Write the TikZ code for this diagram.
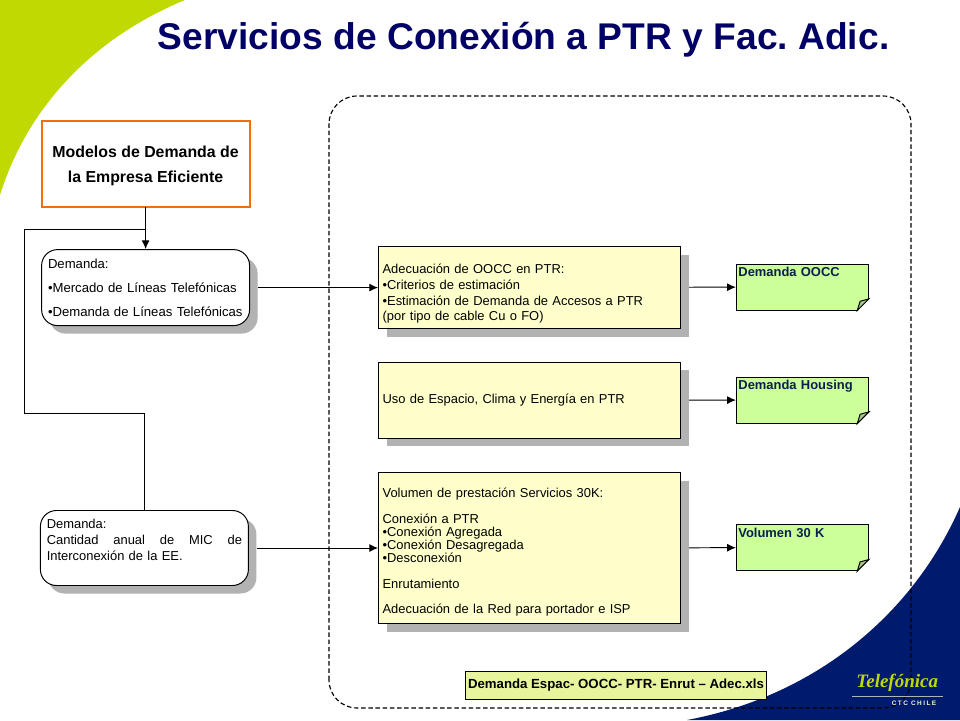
\documentclass[tikz,border=0pt]{standalone}
\usepackage{fontspec}
\setmainfont{Liberation Sans}
\newfontfamily\logofont{Liberation Serif}
\newfontfamily\ctcfont[LetterSpace=22]{Liberation Sans}
\usetikzlibrary{shadows,calc,arrows.meta}
\definecolor{limegreen}{HTML}{C0D900}
\definecolor{darknavy}{HTML}{001A6E}
\definecolor{titlenavy}{HTML}{000066}
\definecolor{boxyellow}{HTML}{FFFFCC}
\definecolor{notegreen}{HTML}{CCFF99}
\definecolor{foldgreen}{HTML}{A8C488}
\definecolor{fileyellow}{HTML}{E8F59C}
\definecolor{edgeorange}{HTML}{F07010}
\definecolor{shadowgray}{HTML}{B2B2B2}
\definecolor{notetext}{HTML}{0A1F50}
\tikzset{
	flat shadow/.style={drop shadow={shadow xshift=0.2cm,shadow yshift=-0.2cm,fill=shadowgray,opacity=1}},
	modelbox/.style={draw=edgeorange,line width=1.3pt,outer sep=0pt,fill=white,minimum width=5.2cm,minimum height=2.15cm,align=center,font=\fontsize{11.3}{17.8}\selectfont\bfseries},
	demandbox/.style={draw,line width=0.7pt,fill=white,rounded corners=0.4cm,flat shadow,inner xsep=0.16cm,text width=4.88cm,font=\fontsize{9.35}{17}\selectfont},
	stagebox/.style={draw,line width=0.7pt,fill=boxyellow,flat shadow,inner xsep=0.1cm,text width=7.35cm,align=left,font=\fontsize{9.2}{11.2}\selectfont},
	notebox/.style={draw,line width=0.7pt,fill=notegreen,text=notetext,inner xsep=0.05cm,inner ysep=0pt,text width=3.2cm,minimum height=1.15cm,align=left,font=\fontsize{9.2}{10.7}\selectfont\bfseries},
	conn/.style={line width=0.7pt,-{Latex[length=0.22cm,width=0.2cm]}},
	connplain/.style={line width=0.7pt},
}
% esquina doblada de las notas
\newcommand{\notefold}[1]{
	\fill[white] ($(#1.south east)+(-0.29,-0.02)$) -- ($(#1.south east)+(0.02,-0.02)$) -- ($(#1.south east)+(0.02,0.29)$) -- cycle;
	\draw[line width=0.7pt,fill=foldgreen] ($(#1.south east)+(-0.29,0)$) -- ($(#1.south east)+(0,0.29)$) -- ($(#1.south east)+(-0.22,0.23)$) -- cycle;
}
\frenchspacing
\begin{document}
\begin{tikzpicture}
	\useasboundingbox (0,0) rectangle (24,18);
	\fill[white] (0,0) rectangle (24,18);
	%Fondo
	\fill[limegreen] (0,18) -- (4.625,18) .. controls (2.5,17.125) and (0.75,15.5) .. (0,13.125) -- cycle;
	\fill[darknavy] (24,5.325) .. controls (22.875,2.75) and (20.5,0.625) .. (17.175,0) -- (24,0) -- cycle;
	\node[text=titlenavy,font=\fontsize{26.45}{30}\selectfont\bfseries] (title) at (13.09,17.0) {Servicios de Conexión a PTR y Fac. Adic.};
	\draw[line width=0.8pt,dash pattern=on 3.2pt off 1.9pt,rounded corners=0.7cm] (8.225,0.3) rectangle (22.775,15.6);
	%Modelos y demanda
	\node[modelbox] (models) at (3.64,13.89) {\rule{0pt}{10.7pt}Modelos de Demanda de\\la Empresa Eficiente};
	\node[demandbox,minimum height=1.9cm,align=left] (dem1) at (3.64,10.81) {Demanda:\\•Mercado de Líneas Telefónicas\\•Demanda de Líneas Telefónicas};
	\node[demandbox,minimum height=1.875cm,align=left,font=\fontsize{9.2}{11.5}\selectfont] (dem2) at (3.61,4.3) {Demanda:\\Cantidad\hfill anual\hfill de\hfill MIC\hfill de\hspace*{0.05cm}\\Interconexión de la EE.\\\mbox{}};
	%Etapas
	\node[stagebox,minimum height=2.05cm] (stage1) at (13.24,10.81) {\rule{0pt}{15.5pt}Adecuación de OOCC en PTR:\\•Criterios de estimación\\•Estimación de Demanda de Accesos a PTR\\(por tipo de cable Cu o FO)};
	\node[stagebox,minimum height=1.9cm] (stage2) at (13.24,7.99) {Uso de Espacio, Clima y Energía en PTR};
	\node[stagebox,minimum height=3.775cm,font=\fontsize{9.2}{9.25}\selectfont] (stage3) at (13.24,4.3) {\rule{0pt}{13pt}Volumen de prestación Servicios 30K:\\[9.25pt]Conexión a PTR\\•Conexión Agregada\\•Conexión Desagregada\\•Desconexión\\[9.25pt]Enrutamiento\\[8.7pt]Adecuación de la Red para portador e ISP};
	%Notas
	\node[notebox] (note1) at (20.06,10.825) {Demanda OOCC\\\mbox{}\\\mbox{}};
	\node[notebox] (note2) at (20.06,8.0) {Demanda Housing\\\mbox{}\\\mbox{}};
	\node[notebox] (note3) at (20.06,4.31) {Volumen 30 K\\\mbox{}\\\mbox{}};
	\notefold{note1}
	\notefold{note2}
	\notefold{note3}
	\node[draw,line width=0.7pt,fill=fileyellow,minimum width=7.525cm,minimum height=0.7cm,inner sep=0pt,font=\fontsize{9.4}{10}\selectfont\bfseries] (file) at (15.4,0.875) {Demanda Espac- OOCC- PTR- Enrut – Adec.xls};
	%Conexiones
	\coordinate (branch) at (3.64,12.275);
	\coordinate (loopa) at (0.6125,12.275);
	\coordinate (loopb) at (0.6125,7.66);
	\coordinate (loopc) at (3.61,7.66);
	\draw[conn] (models) -- (dem1);
	\draw[connplain] (branch) -- (loopa) -- (loopb) -- (loopc) -- (dem2);
	\draw[conn,shorten <=0.2cm] (dem1) -- (stage1);
	\draw[conn,shorten <=0.2cm] (dem2) -- (stage3);
	\draw[conn,shorten <=0.2cm] (stage1) -- (note1);
	\draw[conn,shorten <=0.2cm] (stage2) -- (note2);
	\draw[conn,shorten <=0.2cm] (stage3) -- (note3);
	%Logo
	\node[text=limegreen,font=\fontsize{13.5}{15}\selectfont\logofont\bfseries\itshape] (logo) at (22.43,0.925) {Telefónica};
	\draw[shadowgray,line width=0.6pt] (21.3,0.6) -- (23.575,0.6);
	\node[text=white!80!limegreen,font=\fontsize{4.6}{5}\selectfont\ctcfont\bfseries] (ctc) at (22.85,0.425) {CTC CHILE};
\end{tikzpicture}
\end{document}
